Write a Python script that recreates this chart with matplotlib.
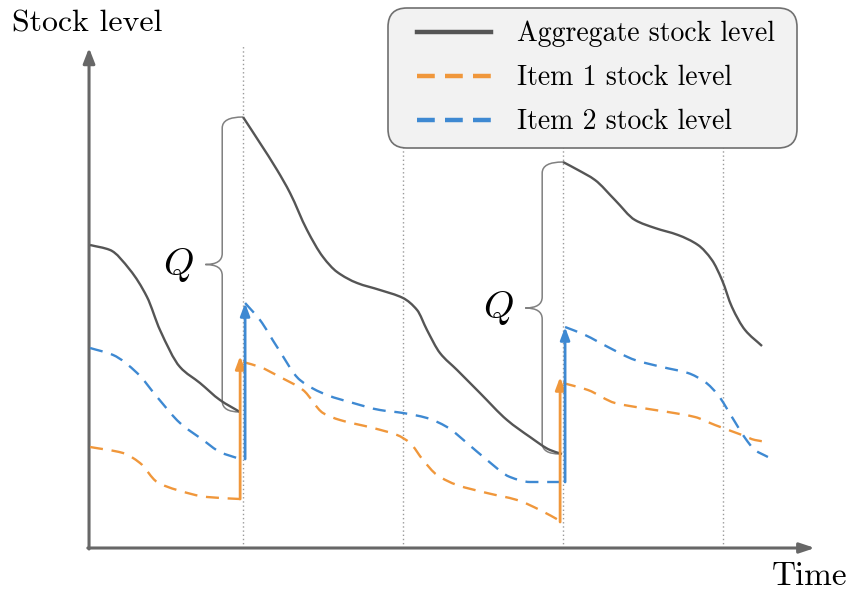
import matplotlib
matplotlib.use("Agg")
import matplotlib.pyplot as plt
from matplotlib.path import Path
from matplotlib.patches import PathPatch
from matplotlib.lines import Line2D
from matplotlib.legend_handler import HandlerLine2D

plt.rcParams['font.family'] = ['cmr10', 'DejaVu Serif']
plt.rcParams['mathtext.fontset'] = 'cm'
plt.rcParams['axes.unicode_minus'] = False

# ---------------- data (time in reorder periods, stock level in arbitrary units)
reorder_times = [1.0, 3.0]
grid_times = [1.0, 2.0, 3.0, 4.0]

agg_t = [[0.044, 0.169, 0.294, 0.4, 0.481, 0.606, 0.731, 0.856, 0.981],
         [1.0, 1.106, 1.213, 1.294, 1.4, 1.5, 1.588, 1.713, 1.856, 2.0, 2.088,
          2.15, 2.231, 2.338, 2.481, 2.65, 2.794, 2.919, 2.994],
         [3.0, 3.094, 3.2, 3.325, 3.45, 3.575, 3.719, 3.844, 3.931, 3.994,
          4.056, 4.138, 4.244]]
agg_v = [[30.3, 29.8, 27.8, 25.1, 21.8, 18.1, 16.5, 14.8, 13.6],
         [43.1, 40.5, 37.8, 35.5, 31.8, 29.1, 27.6, 26.5, 25.8, 25.0, 23.8,
          21.8, 19.5, 17.8, 15.5, 12.8, 11.1, 9.8, 9.4],
         [38.6, 37.8, 36.8, 34.8, 32.8, 32.0, 31.3, 30.3, 28.8, 26.8, 24.1,
          21.8, 20.2]]

item1_t = [[0.044, 0.25, 0.356, 0.463, 0.588, 0.775, 0.981],
           [1.0, 1.106, 1.231, 1.375, 1.5, 1.606, 1.813, 1.963, 2.044, 2.125,
            2.213, 2.338, 2.525, 2.713, 2.856, 2.994],
           [3.0, 3.156, 3.325, 3.494, 3.656, 3.825, 3.95, 4.119, 4.2, 4.281]]
item1_v = [[10.1, 9.5, 8.5, 6.6, 5.8, 5.1, 4.9],
           [18.6, 18.1, 17.1, 15.8, 13.5, 12.8, 12.0, 11.3, 10.5, 8.8, 7.3,
            6.3, 5.5, 4.8, 3.8, 2.6],
           [16.5, 15.8, 14.5, 14.0, 13.6, 13.1, 12.3, 11.3, 10.8, 10.6]]

item2_t = [[0.044, 0.188, 0.338, 0.463, 0.606, 0.75, 0.856, 0.981],
           [1.013, 1.106, 1.213, 1.356, 1.525, 1.688, 1.856, 2.0, 2.15, 2.275,
            2.4, 2.525, 2.669, 2.794, 3.0],
           [3.013, 3.138, 3.281, 3.45, 3.619, 3.781, 3.888, 3.969, 4.056,
            4.138, 4.2, 4.281]]
item2_v = [[20.0, 19.3, 17.5, 15.1, 12.5, 10.8, 9.6, 8.9],
           [24.5, 22.8, 20.1, 16.8, 15.3, 14.5, 13.8, 13.5, 13.0, 12.1, 10.5,
            8.8, 7.1, 6.6, 6.6],
           [22.1, 21.3, 20.1, 18.8, 18.1, 17.5, 16.6, 15.3, 13.1, 11.0, 9.8,
            9.1]]

labels = ["Aggregate stock level", "Item 1 stock level", "Item 2 stock level"]
axis_labels = ["Stock level", "Time"]
brace_label = "$Q$"

# ---------------- style
C_AGG = "#555555"
C_I1 = "#F0973B"
C_I2 = "#3E89D2"
C_AX = "#676767"

fig = plt.figure(figsize=(8.5, 5.93), dpi=100)
ax = fig.add_axes([0, 0, 1, 1])
ax.set_xlim(-0.519, 4.794)
ax.set_ylim(-4.5, 54.8)
ax.axis("off")


def smooth_path(xs, ys):
    """Cubic Hermite curve through the points, drawn as Bezier segments."""
    n = len(xs)
    m = []
    for i in range(n):
        if i == 0:
            m.append((ys[1] - ys[0]) / (xs[1] - xs[0]))
        elif i == n - 1:
            m.append((ys[-1] - ys[-2]) / (xs[-1] - xs[-2]))
        else:
            s0 = (ys[i] - ys[i - 1]) / (xs[i] - xs[i - 1])
            s1 = (ys[i + 1] - ys[i]) / (xs[i + 1] - xs[i])
            if s0 * s1 <= 0:
                m.append(0.0)
            else:
                m.append(2.0 / (1.0 / s0 + 1.0 / s1))
    verts = [(xs[0], ys[0])]
    codes = [Path.MOVETO]
    for i in range(n - 1):
        dx = xs[i + 1] - xs[i]
        c1 = (xs[i] + dx / 3, ys[i] + m[i] * dx / 3)
        c2 = (xs[i + 1] - dx / 3, ys[i + 1] - m[i + 1] * dx / 3)
        verts += [c1, c2, (xs[i + 1], ys[i + 1])]
        codes += [Path.CURVE4] * 3
    return Path(verts, codes)


def draw_series(ts, vs, color, ls, z):
    for t, v in zip(ts, vs):
        patch = PathPatch(smooth_path(t, v), fill=False, edgecolor=color,
                          lw=1.7, linestyle=ls, capstyle='butt', zorder=z)
        ax.add_patch(patch)


# dotted period lines
for g in grid_times:
    ax.plot([g, g], [0, 50.3], color="#9a9a9a", lw=1.0, ls=(0, (1, 2)), zorder=1)

# axes arrows
ax.annotate("", xy=(0.0375, 50.0), xytext=(0.0375, -0.1),
            arrowprops=dict(arrowstyle="-|>,head_length=0.9,head_width=0.35",
                            color=C_AX, lw=2.2, shrinkA=0, shrinkB=0), zorder=3)
ax.annotate("", xy=(4.575, 0.0), xytext=(0.03, 0.0),
            arrowprops=dict(arrowstyle="-|>,head_length=0.9,head_width=0.3",
                            color=C_AX, lw=2.2, shrinkA=0, shrinkB=0), zorder=3)

draw_series(item1_t, item1_v, C_I1, (0, (5.5, 3.7)), 4)
draw_series(item2_t, item2_v, C_I2, (0, (5.5, 3.7)), 4)
draw_series(agg_t, agg_v, C_AGG, "-", 5)

# replenishment arrows
for k, c in enumerate(reorder_times):
    i1_lo, i1_hi = item1_v[k][-1], item1_v[k + 1][0]
    i2_lo, i2_hi = item2_v[k][-1], item2_v[k + 1][0]
    ax.annotate("", xy=(c - 0.018, i1_hi + 0.6), xytext=(c - 0.018, i1_lo),
                arrowprops=dict(arrowstyle="-|>,head_length=0.75,head_width=0.28",
                                color=C_I1, lw=2.0, shrinkA=0, shrinkB=0), zorder=6)
    ax.annotate("", xy=(c + 0.013, i2_hi), xytext=(c + 0.013, i2_lo),
                arrowprops=dict(arrowstyle="-|>,head_length=0.75,head_width=0.28",
                                color=C_I2, lw=2.0, shrinkA=0, shrinkB=0), zorder=6)

    # brace spanning Q
    lo = agg_v[k][-1]
    hi = agg_v[k + 1][0]
    mid = (lo + hi) / 2
    s = c - 0.13
    tip = c - 0.235
    d = 1.1
    verts = [(c, hi), (s, hi), (s, hi - d),
             (s, mid + d), (s, mid), (tip, mid),
             (s, mid), (s, mid - d),
             (s, lo + d), (s, lo), (c - 0.02, lo)]
    codes = [Path.MOVETO, Path.CURVE3, Path.CURVE3,
             Path.LINETO, Path.CURVE3, Path.CURVE3,
             Path.CURVE3, Path.CURVE3,
             Path.LINETO, Path.CURVE3, Path.CURVE3]
    ax.add_patch(PathPatch(Path(verts, codes), fill=False, edgecolor="#808080",
                           lw=1.1, zorder=3))
    ax.text(tip - 0.17, mid, brace_label, fontsize=28, ha="center", va="center",
            zorder=7)

# axis labels
ax.text(-0.444, 51.6, axis_labels[0], fontsize=23, ha="left", va="baseline")
ax.text(4.775, -3.7, axis_labels[1], fontsize=24, ha="right", va="baseline")

# legend
handles = [Line2D([], [], color=C_AGG, lw=3.2),
           Line2D([], [], color=C_I1, lw=3.2, ls=(0, (4.0, 2.3))),
           Line2D([], [], color=C_I2, lw=3.2, ls=(0, (4.0, 2.3)))]
leg = ax.legend(handles, labels, loc="upper left",
                bbox_to_anchor=(0.456, 0.9865, 0.482, 0.0), mode="expand",
                borderaxespad=0, fontsize=20, handlelength=3.27,
                handletextpad=0.94, labelspacing=0.64, borderpad=0.46,
                handler_map={Line2D: HandlerLine2D(xpad=0.61)},
                frameon=True, fancybox=True, facecolor="#f2f2f2",
                edgecolor="#707070", framealpha=1.0)
leg.get_frame().set_boxstyle("round", pad=0, rounding_size=0.7)
leg.get_frame().set_linewidth(1.2)
leg.set_zorder(10)

fig.savefig("out.png", dpi=100)
